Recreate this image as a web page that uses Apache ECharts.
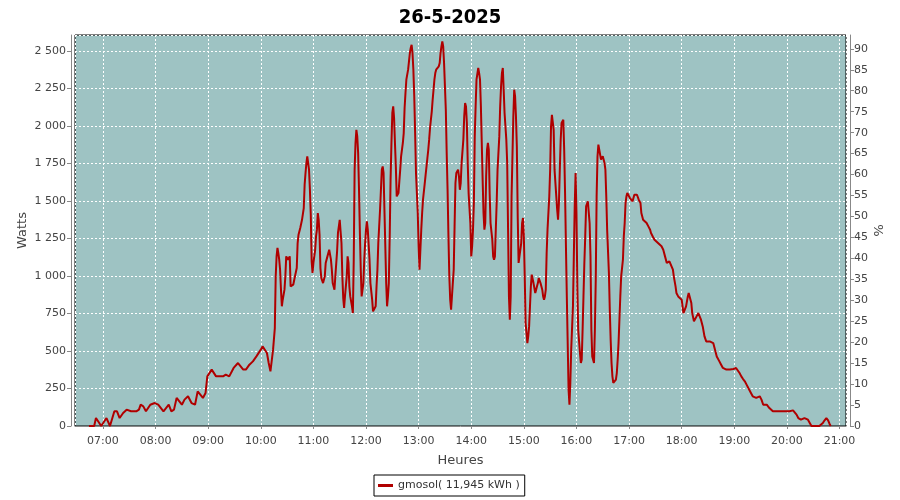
<!DOCTYPE html>
<html>
<head>
<meta charset="utf-8">
<script src="https://cdn.jsdelivr.net/npm/echarts@6/dist/echarts.min.js"></script>
<style>html,body{margin:0;padding:0;background:#fff}#c{width:900px;height:500px}</style>
</head>
<body>
<div id="c"></div>
<script>
const titleText = '26-5-2025';
const seriesName = 'gmosol( 11,945 kWh )';
const times = ['06:44','06:50','06:52','06:54','06:58','07:04','07:08','07:10','07:13','07:16','07:19','07:23','07:27','07:32','07:38','07:41','07:43','07:46','07:49','07:54','07:59','08:03','08:05','08:09','08:11','08:15','08:18','08:21','08:24','08:26','08:30','08:33','08:37','08:41','08:45','08:48','08:50','08:54','08:57','08:59','09:04','09:09','09:17','09:20','09:24','09:29','09:34','09:40','09:43','09:47','09:51','09:55','10:00','10:02','10:04','10:07','10:09','10:11','10:13','10:14','10:16','10:17','10:18','10:19','10:20','10:21','10:22','10:23','10:24','10:25','10:27','10:28','10:29','10:30','10:31','10:33','10:34','10:35','10:37','10:39','10:41','10:42','10:43','10:45','10:47','10:49','10:50','10:51','10:52','10:53','10:55','10:56','10:57','10:58','10:59','11:00','11:02','11:03','11:04','11:05','11:06','11:07','11:08','11:09','11:11','11:13','11:14','11:16','11:18','11:20','11:21','11:22','11:24','11:25','11:27','11:28','11:29','11:30','11:32','11:33','11:34','11:35','11:36','11:38','11:39','11:40','11:41','11:42','11:44','11:45','11:46','11:47','11:48','11:49','11:50','11:51','11:52','11:53','11:54','11:55','11:57','11:58','11:59','12:00','12:01','12:02','12:04','12:05','12:07','12:08','12:10','12:11','12:12','12:13','12:14','12:16','12:17','12:18','12:19','12:20','12:21','12:22','12:23','12:24','12:25','12:26','12:27','12:28','12:29','12:30','12:31','12:32','12:33','12:34','12:35','12:37','12:38','12:39','12:40','12:42','12:43','12:44','12:45','12:46','12:48','12:49','12:50','12:51','12:52','12:53','12:54','12:55','12:56','12:57','12:59','13:00','13:01','13:02','13:03','13:04','13:05','13:07','13:08','13:09','13:10','13:11','13:12','13:13','13:15','13:16','13:17','13:18','13:19','13:20','13:21','13:23','13:24','13:25','13:26','13:27','13:28','13:29','13:31','13:32','13:33','13:34','13:35','13:36','13:37','13:38','13:40','13:41','13:42','13:43','13:45','13:46','13:47','13:48','13:49','13:51','13:52','13:53','13:54','13:55','13:56','13:57','13:59','14:00','14:01','14:02','14:03','14:04','14:05','14:06','14:08','14:09','14:10','14:11','14:12','14:13','14:14','14:15','14:16','14:17','14:18','14:19','14:20','14:21','14:22','14:24','14:25','14:26','14:27','14:28','14:29','14:30','14:32','14:33','14:34','14:35','14:36','14:37','14:38','14:40','14:41','14:42','14:43','14:44','14:45','14:46','14:48','14:49','14:50','14:51','14:52','14:53','14:54','14:55','14:57','14:58','14:59','15:00','15:01','15:02','15:04','15:05','15:06','15:07','15:08','15:09','15:10','15:11','15:13','15:14','15:15','15:16','15:17','15:18','15:19','15:21','15:22','15:23','15:24','15:25','15:26','15:27','15:29','15:30','15:31','15:32','15:33','15:34','15:35','15:37','15:38','15:39','15:40','15:41','15:42','15:43','15:45','15:46','15:47','15:48','15:49','15:50','15:51','15:52','15:53','15:54','15:56','15:57','15:58','15:59','16:00','16:01','16:02','16:04','16:05','16:06','16:07','16:08','16:09','16:10','16:11','16:13','16:14','16:15','16:16','16:17','16:18','16:20','16:21','16:22','16:23','16:24','16:25','16:26','16:28','16:29','16:30','16:31','16:32','16:33','16:34','16:35','16:37','16:38','16:39','16:40','16:41','16:42','16:43','16:45','16:46','16:47','16:48','16:49','16:50','16:51','16:53','16:54','16:55','16:56','16:57','16:58','16:59','17:01','17:02','17:03','17:04','17:05','17:06','17:07','17:09','17:10','17:11','17:13','17:14','17:16','17:18','17:20','17:22','17:24','17:25','17:27','17:29','17:31','17:33','17:35','17:37','17:39','17:41','17:43','17:44','17:46','17:48','17:50','17:51','17:53','17:54','17:56','17:58','18:00','18:01','18:02','18:04','18:05','18:07','18:08','18:10','18:11','18:12','18:14','18:15','18:17','18:19','18:21','18:22','18:24','18:26','18:28','18:30','18:32','18:34','18:36','18:38','18:40','18:41','18:43','18:45','18:47','18:49','18:51','18:53','18:55','18:57','18:59','19:00','19:02','19:04','19:06','19:08','19:10','19:12','19:14','19:16','19:18','19:19','19:21','19:23','19:25','19:27','19:29','19:31','19:33','19:35','19:37','19:38','19:40','19:42','19:44','19:46','19:48','19:52','19:56','19:59','20:03','20:07','20:09','20:11','20:13','20:15','20:16','20:18','20:20','20:22','20:24','20:26','20:28','20:30','20:37','20:39','20:41','20:43','20:45','20:47','20:49','20:50'];
const watts = [0,0,53,53,0,53,0,0,98,98,53,87,109,98,98,109,142,131,98,142,153,142,153,98,109,142,98,109,187,187,142,176,198,153,142,231,242,187,220,331,376,331,331,342,331,387,420,376,376,409,431,464,509,531,520,487,420,364,353,509,653,998,1131,1187,1153,1109,1042,909,798,842,909,998,1131,1131,1109,1131,931,920,942,998,1053,1220,1275,1320,1375,1453,1609,1687,1753,1798,1709,1575,1409,1098,1020,1087,1175,1264,1309,1420,1375,1275,1053,987,953,998,1087,1131,1175,1109,1042,953,909,998,1164,1287,1331,1375,1220,998,853,787,864,998,1131,1087,931,864,798,753,1109,1709,1887,1975,1931,1820,1575,1287,1042,864,953,1109,1220,1309,1364,1309,1109,953,842,764,753,798,931,1042,1220,1442,1575,1709,1731,1687,1442,1198,953,798,864,953,1264,1642,1887,2087,2131,2053,1887,1731,1531,1553,1631,1709,1798,1887,1953,2120,2220,2309,2376,2431,2487,2520,2542,2487,2376,2198,1953,1687,1420,1198,1042,1175,1309,1420,1509,1620,1676,1731,1787,1842,1909,1987,2098,2176,2242,2309,2353,2376,2387,2398,2420,2487,2531,2565,2531,2420,2109,1820,1575,1264,998,842,775,864,1042,1331,1620,1687,1709,1664,1575,1620,1753,1909,2065,2153,2131,2020,1753,1553,1353,1131,1198,1309,1487,1931,2131,2309,2387,2353,2309,2131,1887,1642,1420,1309,1353,1664,1842,1887,1842,1553,1353,1242,1131,1109,1131,1309,1487,1709,1931,2131,2265,2353,2387,2242,2087,1909,1753,1309,864,709,864,1531,2065,2242,2198,2065,1864,1398,1087,1131,1220,1353,1387,1264,998,687,553,598,664,798,931,1009,998,953,887,909,931,953,987,998,953,909,864,842,864,909,1153,1309,1531,1709,1998,2075,2087,1975,1709,1531,1442,1375,1487,1709,1909,2020,2042,1842,1553,1198,864,553,242,142,287,509,798,1131,1464,1687,1420,931,642,487,420,442,642,864,1087,1264,1464,1498,1487,1353,1131,642,464,420,642,976,1531,1798,1876,1842,1776,1764,1798,1787,1753,1709,1531,1309,1020,775,575,420,331,287,287,309,353,442,553,709,864,998,1109,1264,1353,1487,1531,1553,1553,1520,1531,1509,1498,1520,1542,1553,1542,1531,1509,1487,1420,1375,1364,1353,1331,1309,1287,1264,1242,1231,1220,1209,1198,1175,1131,1087,1087,1098,1087,1042,998,931,887,864,864,842,798,753,753,798,864,887,898,820,753,698,709,731,753,742,709,664,598,564,564,564,564,553,509,464,453,431,409,387,376,376,376,376,376,380,376,387,376,353,331,313,298,276,253,242,220,198,187,187,187,198,176,142,142,142,142,120,109,98,91,98,98,98,98,98,104,98,76,53,47,42,53,53,53,42,31,0,0,0,0,20,38,53,38,9,0];
const leftTicks = {min: 0, max: 2607, interval: 250};
const rightTicks = {min: 0, max: 93.3, interval: 5};
const xRange = {start: '06:28:06', end: '21:07:24'};

function toTs(s) {
  const p = s.split(':').map(Number);
  return Date.UTC(2025, 4, 26, p[0], p[1], p[2] || 0);
}
const data = times.map((t, i) => [toTs(t), watts[i]]);

const labelFont = {fontFamily: 'DejaVu Sans', fontSize: 11, color: '#444444'};
const nameFont = {fontFamily: 'DejaVu Sans', fontSize: 13, color: '#444444'};
const axisGray = '#888888';

function tickText(v, step) {
  if (Math.abs(v / step - Math.round(v / step)) > 1e-6) return '';
  return String(Math.round(v)).replace(/\B(?=(\d{3})+(?!\d))/g, ' ');
}

const chart = echarts.init(document.getElementById('c'), null, {renderer: 'canvas'});
chart.setOption({
  useUTC: true,
  animation: false,
  backgroundColor: '#ffffff',
  title: {
    text: titleText, left: 'center', top: 3,
    textStyle: {fontFamily: 'DejaVu Sans Condensed, DejaVu Sans', fontSize: 20, fontWeight: 'bold', color: '#000'}
  },
  grid: {
    left: 75, right: 54, top: 35, bottom: 74,
    outerBoundsMode: 'none', containLabel: false,
    show: true, backgroundColor: '#9ec3c3', borderColor: '#000000', borderWidth: 1
  },
  legend: {
    data: [seriesName], left: 374, top: 475,
    padding: [5, 5, 5, 4],
    borderColor: '#000', borderWidth: 1,
    icon: 'rect', itemWidth: 15, itemHeight: 3,
    textStyle: {fontFamily: 'DejaVu Sans', fontSize: 11, color: '#333'}
  },
  xAxis: {
    type: 'time',
    min: toTs(xRange.start), max: toTs(xRange.end),
    minInterval: 3600 * 1000, maxInterval: 3600 * 1000,
    offset: 4,
    name: 'Heures', nameLocation: 'middle', nameGap: 24,
    nameTextStyle: nameFont,
    axisLine: {show: true, lineStyle: {color: axisGray}},
    axisTick: {show: true, length: 3, lineStyle: {color: axisGray}},
    axisLabel: Object.assign({formatter: '{HH}:{mm}', margin: 6, hideOverlap: false}, labelFont),
    splitLine: {show: true, lineStyle: {color: '#ffffff', type: [2, 2], width: 1}}
  },
  yAxis: [{
    type: 'value', position: 'left',
    min: leftTicks.min, max: leftTicks.max, interval: leftTicks.interval,
    offset: 4,
    name: 'Watts', nameLocation: 'middle', nameGap: 42, nameRotate: 90,
    nameMoveOverlap: false,
    nameTextStyle: nameFont,
    axisLine: {show: true, lineStyle: {color: axisGray}},
    axisTick: {show: true, length: 4, lineStyle: {color: axisGray}},
    axisLabel: Object.assign({
      margin: 5, showMaxLabel: false,
      formatter: v => tickText(v, leftTicks.interval)
    }, labelFont),
    splitLine: {show: true, lineStyle: {color: '#ffffff', type: [2, 2], width: 1}}
  }, {
    type: 'value', position: 'right',
    min: rightTicks.min, max: rightTicks.max, interval: rightTicks.interval,
    offset: 4,
    name: '%', nameLocation: 'middle', nameGap: 21, nameRotate: -90,
    nameMoveOverlap: false,
    nameTextStyle: nameFont,
    axisLine: {show: true, lineStyle: {color: axisGray}},
    axisTick: {show: true, length: 4, lineStyle: {color: axisGray}},
    axisLabel: Object.assign({
      margin: 4, showMaxLabel: false,
      formatter: v => tickText(v, rightTicks.interval)
    }, labelFont),
    splitLine: {show: false}
  }],
  series: [{
    name: seriesName, type: 'line', yAxisIndex: 0,
    data: data, showSymbol: false, symbol: 'none',
    lineStyle: {color: '#b00000', width: 2},
    itemStyle: {color: '#b00000'}
  }]
});
</script>
</body>
</html>
